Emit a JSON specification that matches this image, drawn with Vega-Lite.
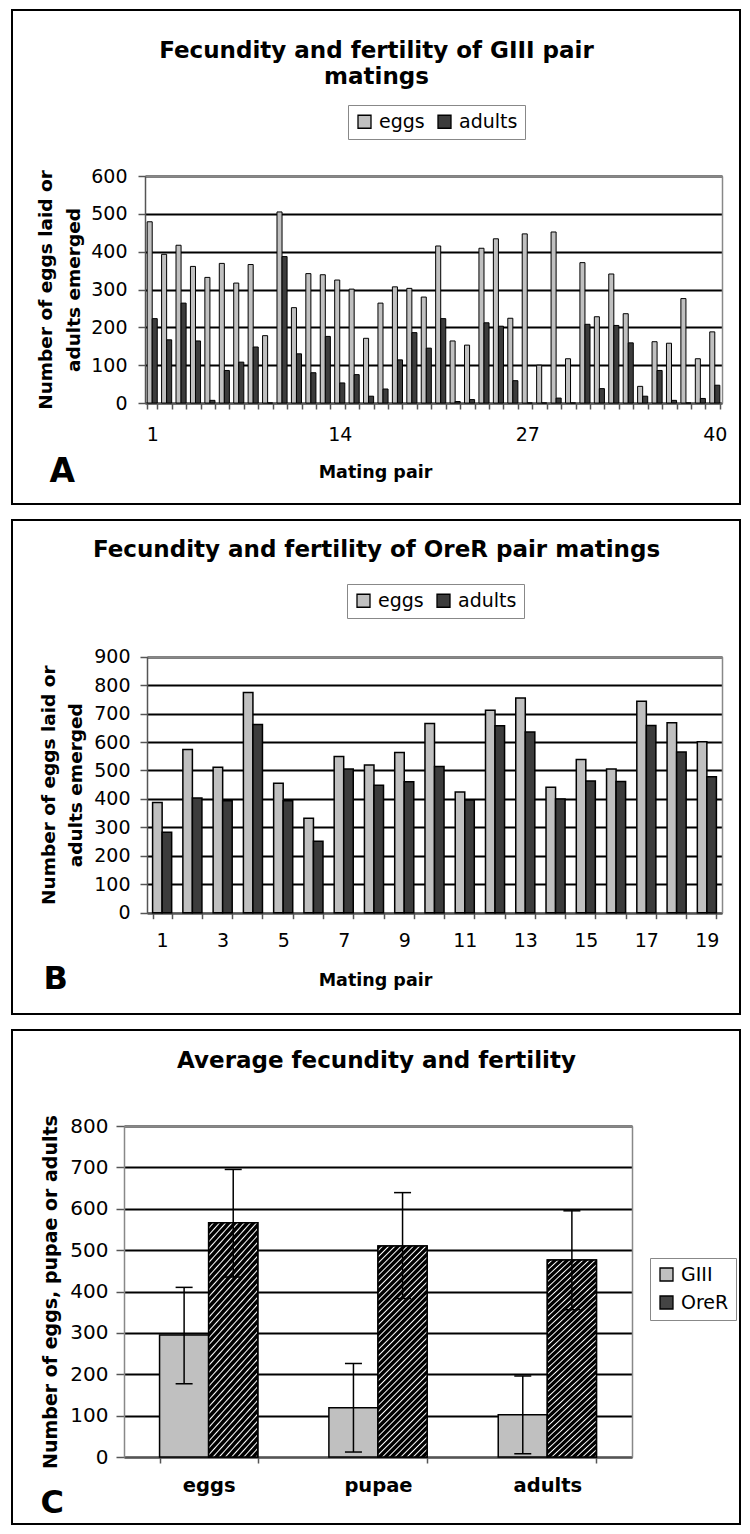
{
  "$schema": "https://vega.github.io/schema/vega-lite/v6.json",
  "background": "white",
  "padding": {"left": 11, "top": 9, "right": 0, "bottom": 0},
  "spacing": 16,
  "bounds": "flush",
  "resolve": {"scale": {"color": "independent", "xOffset": "independent", "x": "independent", "y": "independent"}, "legend": {"color": "independent"}},
  "config": {
    "font": "DejaVu Sans",
    "view": {"stroke": "black", "strokeWidth": 2, "fill": "white"},
    "axis": {
      "labelFont": "DejaVu Sans", "labelColor": "black", "labelFontSize": 19,
      "titleFont": "DejaVu Sans", "titleColor": "black", "titleFontWeight": "bold",
      "domainColor": "#555555", "domainWidth": 1.5, "tickColor": "#555555", "tickWidth": 1.5,
      "gridColor": "black", "gridWidth": 2, "gridOpacity": 1
    },
    "legend": {
      "labelFont": "DejaVu Sans", "labelFontSize": 19, "labelColor": "black",
      "symbolType": "square", "symbolSize": 169, "symbolStrokeColor": "black", "symbolStrokeWidth": 1.3,
      "strokeColor": "#888888", "fillColor": "white", "padding": 7, "labelOffset": 5, "columnPadding": 10, "rowPadding": 8
    }
  },
  "vconcat": [
    {
      "width": 728, "height": 494,
      "data": {"values": [
        {"pair": 1, "eggs": 479, "adults": 223}, {"pair": 2, "eggs": 393, "adults": 167},
        {"pair": 3, "eggs": 417, "adults": 264}, {"pair": 4, "eggs": 361, "adults": 164},
        {"pair": 5, "eggs": 332, "adults": 7}, {"pair": 6, "eggs": 369, "adults": 86},
        {"pair": 7, "eggs": 317, "adults": 108}, {"pair": 8, "eggs": 366, "adults": 148},
        {"pair": 9, "eggs": 178, "adults": 0}, {"pair": 10, "eggs": 505, "adults": 387},
        {"pair": 11, "eggs": 252, "adults": 130}, {"pair": 12, "eggs": 342, "adults": 80},
        {"pair": 13, "eggs": 339, "adults": 176}, {"pair": 14, "eggs": 325, "adults": 53},
        {"pair": 15, "eggs": 301, "adults": 75}, {"pair": 16, "eggs": 171, "adults": 18},
        {"pair": 17, "eggs": 264, "adults": 37}, {"pair": 18, "eggs": 307, "adults": 114},
        {"pair": 19, "eggs": 303, "adults": 186}, {"pair": 20, "eggs": 280, "adults": 145},
        {"pair": 21, "eggs": 415, "adults": 223}, {"pair": 22, "eggs": 164, "adults": 4},
        {"pair": 23, "eggs": 153, "adults": 9}, {"pair": 24, "eggs": 409, "adults": 212},
        {"pair": 25, "eggs": 434, "adults": 203}, {"pair": 26, "eggs": 224, "adults": 59},
        {"pair": 27, "eggs": 447, "adults": 0}, {"pair": 28, "eggs": 100, "adults": 0},
        {"pair": 29, "eggs": 452, "adults": 13}, {"pair": 30, "eggs": 117, "adults": 0},
        {"pair": 31, "eggs": 371, "adults": 208}, {"pair": 32, "eggs": 228, "adults": 38},
        {"pair": 33, "eggs": 341, "adults": 205}, {"pair": 34, "eggs": 236, "adults": 159},
        {"pair": 35, "eggs": 44, "adults": 18}, {"pair": 36, "eggs": 162, "adults": 86},
        {"pair": 37, "eggs": 158, "adults": 7}, {"pair": 38, "eggs": 276, "adults": 0},
        {"pair": 39, "eggs": 117, "adults": 12}, {"pair": 40, "eggs": 188, "adults": 47}
      ]},
      "transform": [{"fold": ["eggs", "adults"], "as": ["stage", "n"]}],
      "layer": [
        {
          "mark": {"type": "bar", "stroke": "black", "strokeWidth": 1},
          "encoding": {
            "x": {"field": "pair", "type": "ordinal",
              "scale": {"range": [133, 710], "paddingInner": 0.3, "paddingOuter": 0.15},
              "axis": {"orient": "bottom", "offset": -101, "labelAngle": 0, "labelOverlap": false,
                "labelExpr": "(datum.value - 1) % 13 == 0 ? datum.label : ''",
                "labelBaseline": "alphabetic", "labelPadding": 31, "tickSize": 6, "tickBand": "extent",
                "title": "Mating pair", "titleFontSize": 17.5, "titleX": 363, "titleY": 74,
                "titleAlign": "center", "titleBaseline": "alphabetic"}},
            "xOffset": {"field": "stage", "type": "nominal", "scale": {"domain": ["eggs", "adults"], "paddingInner": 0}},
            "y": {"field": "n", "type": "quantitative",
              "scale": {"domain": [0, 600], "range": [393, 166], "nice": false},
              "axis": {"orient": "left", "offset": -133, "values": [0, 100, 200, 300, 400, 500, 600], "grid": true,
                "tickSize": 7, "labelPadding": 11,
                "title": ["Number of eggs laid or", "adults emerged"], "titleFontSize": 18.5, "titleLineHeight": 28,
                "titleX": -94, "titleY": 279.5, "titleAngle": 270, "titleAlign": "center", "titleBaseline": "alphabetic"}},
            "color": {"field": "stage", "type": "nominal",
              "scale": {"domain": ["eggs", "adults"], "range": ["#c0c0c0", "#3c3c3c"]},
              "legend": {"orient": "none", "legendX": 336, "legendY": 95, "direction": "horizontal", "title": null}}
          }
        },
        {
          "mark": {"type": "bar", "opacity": 0},
          "encoding": {
            "x": {"field": "pair", "type": "ordinal",
              "axis": {"orient": "top", "offset": -166, "labels": false, "ticks": false, "grid": false, "domainColor": "#888888",
                "title": ["Fecundity and fertility of GIII pair", "matings"], "titleFontSize": 23, "titleLineHeight": 26,
                "titleX": 364, "titleY": -119, "titleAlign": "center", "titleBaseline": "alphabetic", "titleAngle": 0}},
            "y": {"field": "n", "type": "quantitative",
              "axis": {"orient": "right", "offset": -18, "labels": false, "ticks": false, "grid": false, "domainColor": "#888888",
                "title": "A", "titleAngle": 0, "titleX": -673, "titleY": 471, "titleAlign": "left", "titleBaseline": "alphabetic", "titleFontSize": 33}}
          }
        }
      ],
      "resolve": {"axis": {"x": "independent", "y": "independent"}}
    },
    {
      "width": 728, "height": 494,
      "data": {"values": [
        {"pair": 1, "eggs": 387, "adults": 283}, {"pair": 2, "eggs": 574, "adults": 403},
        {"pair": 3, "eggs": 511, "adults": 394}, {"pair": 4, "eggs": 774, "adults": 662},
        {"pair": 5, "eggs": 455, "adults": 394}, {"pair": 6, "eggs": 332, "adults": 251},
        {"pair": 7, "eggs": 549, "adults": 505}, {"pair": 8, "eggs": 519, "adults": 448},
        {"pair": 9, "eggs": 563, "adults": 460}, {"pair": 10, "eggs": 665, "adults": 514},
        {"pair": 11, "eggs": 424, "adults": 396}, {"pair": 12, "eggs": 712, "adults": 657},
        {"pair": 13, "eggs": 755, "adults": 635}, {"pair": 14, "eggs": 441, "adults": 400},
        {"pair": 15, "eggs": 539, "adults": 463}, {"pair": 16, "eggs": 505, "adults": 461},
        {"pair": 17, "eggs": 743, "adults": 658}, {"pair": 18, "eggs": 668, "adults": 565},
        {"pair": 19, "eggs": 601, "adults": 478}
      ]},
      "transform": [{"fold": ["eggs", "adults"], "as": ["stage", "n"]}],
      "layer": [
        {
          "mark": {"type": "bar", "stroke": "black", "strokeWidth": 1.5},
          "encoding": {
            "x": {"field": "pair", "type": "ordinal",
              "scale": {"range": [135, 710], "paddingInner": 0.37, "paddingOuter": 0.185},
              "axis": {"orient": "bottom", "offset": -101.3, "labelAngle": 0, "labelOverlap": false,
                "labelExpr": "datum.value % 2 == 1 ? datum.label : ''",
                "labelBaseline": "alphabetic", "labelPadding": 28, "tickSize": 6, "tickBand": "extent",
                "title": "Mating pair", "titleFontSize": 17.5, "titleX": 363, "titleY": 73,
                "titleAlign": "center", "titleBaseline": "alphabetic"}},
            "xOffset": {"field": "stage", "type": "nominal", "scale": {"domain": ["eggs", "adults"], "paddingInner": 0}},
            "y": {"field": "n", "type": "quantitative",
              "scale": {"domain": [0, 900], "range": [392.7, 136.7], "nice": false},
              "axis": {"orient": "left", "offset": -135, "values": [0, 100, 200, 300, 400, 500, 600, 700, 800, 900], "grid": true,
                "tickSize": 7, "labelPadding": 10,
                "title": ["Number of eggs laid or", "adults emerged"], "titleFontSize": 18.5, "titleLineHeight": 27,
                "titleX": -92.5, "titleY": 264.7, "titleAngle": 270, "titleAlign": "center", "titleBaseline": "alphabetic"}},
            "color": {"field": "stage", "type": "nominal",
              "scale": {"domain": ["eggs", "adults"], "range": ["#c0c0c0", "#3c3c3c"]},
              "legend": {"orient": "none", "legendX": 335, "legendY": 64, "direction": "horizontal", "title": null}}
          }
        },
        {
          "mark": {"type": "bar", "opacity": 0},
          "encoding": {
            "x": {"field": "pair", "type": "ordinal",
              "axis": {"orient": "top", "offset": -136.7, "labels": false, "ticks": false, "grid": false, "domainColor": "#888888",
                "title": "Fecundity and fertility of OreR pair matings", "titleFontSize": 23,
                "titleX": 364, "titleY": -100.7, "titleAlign": "center", "titleBaseline": "alphabetic", "titleAngle": 0}},
            "y": {"field": "n", "type": "quantitative",
              "axis": {"orient": "right", "offset": -18, "labels": false, "ticks": false, "grid": false, "domainColor": "#888888",
                "title": "B", "titleAngle": 0, "titleX": -679, "titleY": 468, "titleAlign": "left", "titleBaseline": "alphabetic", "titleFontSize": 32}}
          }
        }
      ],
      "resolve": {"axis": {"x": "independent", "y": "independent"}}
    },
    {
      "width": 728, "height": 494,
      "data": {"values": [
        {"cat": "eggs", "strain": "GIII", "mean": 295, "lo": 177, "hi": 410},
        {"cat": "eggs", "strain": "OreR", "mean": 566, "lo": 435, "hi": 695},
        {"cat": "pupae", "strain": "GIII", "mean": 119, "lo": 12, "hi": 226},
        {"cat": "pupae", "strain": "OreR", "mean": 510, "lo": 383, "hi": 639},
        {"cat": "adults", "strain": "GIII", "mean": 102, "lo": 8, "hi": 196},
        {"cat": "adults", "strain": "OreR", "mean": 476, "lo": 356, "hi": 595}
      ]},
      "layer": [
        {
          "mark": {"type": "bar", "stroke": "black", "strokeWidth": 1.5},
          "encoding": {
            "x": {"field": "cat", "type": "nominal", "sort": ["eggs", "pupae", "adults"],
              "scale": {"range": [112, 620], "paddingInner": 0.42, "paddingOuter": 0.21},
              "axis": {"orient": "bottom", "offset": -67, "labelAngle": 0, "labelFontWeight": "bold", "labelFontSize": 19.5,
                "labelBaseline": "alphabetic", "labelPadding": 28, "tickSize": 6, "tickBand": "extent", "title": null}},
            "xOffset": {"field": "strain", "type": "nominal", "scale": {"domain": ["GIII", "OreR"], "paddingInner": 0}},
            "y": {"field": "mean", "type": "quantitative",
              "scale": {"domain": [0, 800], "range": [427, 96], "nice": false},
              "axis": {"orient": "left", "offset": -112, "values": [0, 100, 200, 300, 400, 500, 600, 700, 800], "grid": true,
                "tickSize": 8, "labelPadding": 8, "labelFontSize": 20, "domainColor": "#888888",
                "title": "Number of eggs, pupae or adults", "titleFontSize": 19,
                "titleX": -68, "titleY": 261.5, "titleAngle": 270, "titleAlign": "center", "titleBaseline": "alphabetic"}},
            "color": {"field": "strain", "type": "nominal",
              "scale": {"domain": ["GIII", "OreR"], "range": ["#c0c0c0", "#444444"]},
              "legend": {"orient": "none", "legendX": 638, "legendY": 228, "direction": "vertical", "title": null}}
          }
        },
        {
          "transform": [{"filter": "datum.strain === 'OreR'"}],
          "mark": {"type": "bar", "stroke": "black", "strokeWidth": 1.5,
            "fill": {"gradient": "linear", "x1": 0, "y1": 0, "x2": 0.273, "y2": 1.169, "stops": [
              {"offset": 0, "color": "#000"}, {"offset": 0.0131, "color": "#000"}, {"offset": 0.01845, "color": "#fff"},
              {"offset": 0.02381, "color": "#000"}, {"offset": 0.0369, "color": "#000"}, {"offset": 0.04226, "color": "#fff"},
              {"offset": 0.04762, "color": "#000"}, {"offset": 0.06071, "color": "#000"}, {"offset": 0.06607, "color": "#fff"},
              {"offset": 0.07143, "color": "#000"}, {"offset": 0.08452, "color": "#000"}, {"offset": 0.08988, "color": "#fff"},
              {"offset": 0.09524, "color": "#000"}, {"offset": 0.10833, "color": "#000"}, {"offset": 0.11369, "color": "#fff"},
              {"offset": 0.11905, "color": "#000"}, {"offset": 0.13214, "color": "#000"}, {"offset": 0.1375, "color": "#fff"},
              {"offset": 0.14286, "color": "#000"}, {"offset": 0.15595, "color": "#000"}, {"offset": 0.16131, "color": "#fff"},
              {"offset": 0.16667, "color": "#000"}, {"offset": 0.17976, "color": "#000"}, {"offset": 0.18512, "color": "#fff"},
              {"offset": 0.19048, "color": "#000"}, {"offset": 0.20357, "color": "#000"}, {"offset": 0.20893, "color": "#fff"},
              {"offset": 0.21429, "color": "#000"}, {"offset": 0.22738, "color": "#000"}, {"offset": 0.23274, "color": "#fff"},
              {"offset": 0.2381, "color": "#000"}, {"offset": 0.25119, "color": "#000"}, {"offset": 0.25655, "color": "#fff"},
              {"offset": 0.2619, "color": "#000"}, {"offset": 0.275, "color": "#000"}, {"offset": 0.28036, "color": "#fff"},
              {"offset": 0.28571, "color": "#000"}, {"offset": 0.29881, "color": "#000"}, {"offset": 0.30417, "color": "#fff"},
              {"offset": 0.30952, "color": "#000"}, {"offset": 0.32262, "color": "#000"}, {"offset": 0.32798, "color": "#fff"},
              {"offset": 0.33333, "color": "#000"}, {"offset": 0.34643, "color": "#000"}, {"offset": 0.35179, "color": "#fff"},
              {"offset": 0.35714, "color": "#000"}, {"offset": 0.37024, "color": "#000"}, {"offset": 0.3756, "color": "#fff"},
              {"offset": 0.38095, "color": "#000"}, {"offset": 0.39405, "color": "#000"}, {"offset": 0.3994, "color": "#fff"},
              {"offset": 0.40476, "color": "#000"}, {"offset": 0.41786, "color": "#000"}, {"offset": 0.42321, "color": "#fff"},
              {"offset": 0.42857, "color": "#000"}, {"offset": 0.44167, "color": "#000"}, {"offset": 0.44702, "color": "#fff"},
              {"offset": 0.45238, "color": "#000"}, {"offset": 0.46548, "color": "#000"}, {"offset": 0.47083, "color": "#fff"},
              {"offset": 0.47619, "color": "#000"}, {"offset": 0.48929, "color": "#000"}, {"offset": 0.49464, "color": "#fff"},
              {"offset": 0.5, "color": "#000"}, {"offset": 0.5131, "color": "#000"}, {"offset": 0.51845, "color": "#fff"},
              {"offset": 0.52381, "color": "#000"}, {"offset": 0.5369, "color": "#000"}, {"offset": 0.54226, "color": "#fff"},
              {"offset": 0.54762, "color": "#000"}, {"offset": 0.56071, "color": "#000"}, {"offset": 0.56607, "color": "#fff"},
              {"offset": 0.57143, "color": "#000"}, {"offset": 0.58452, "color": "#000"}, {"offset": 0.58988, "color": "#fff"},
              {"offset": 0.59524, "color": "#000"}, {"offset": 0.60833, "color": "#000"}, {"offset": 0.61369, "color": "#fff"},
              {"offset": 0.61905, "color": "#000"}, {"offset": 0.63214, "color": "#000"}, {"offset": 0.6375, "color": "#fff"},
              {"offset": 0.64286, "color": "#000"}, {"offset": 0.65595, "color": "#000"}, {"offset": 0.66131, "color": "#fff"},
              {"offset": 0.66667, "color": "#000"}, {"offset": 0.67976, "color": "#000"}, {"offset": 0.68512, "color": "#fff"},
              {"offset": 0.69048, "color": "#000"}, {"offset": 0.70357, "color": "#000"}, {"offset": 0.70893, "color": "#fff"},
              {"offset": 0.71429, "color": "#000"}, {"offset": 0.72738, "color": "#000"}, {"offset": 0.73274, "color": "#fff"},
              {"offset": 0.7381, "color": "#000"}, {"offset": 0.75119, "color": "#000"}, {"offset": 0.75655, "color": "#fff"},
              {"offset": 0.7619, "color": "#000"}, {"offset": 0.775, "color": "#000"}, {"offset": 0.78036, "color": "#fff"},
              {"offset": 0.78571, "color": "#000"}, {"offset": 0.79881, "color": "#000"}, {"offset": 0.80417, "color": "#fff"},
              {"offset": 0.80952, "color": "#000"}, {"offset": 0.82262, "color": "#000"}, {"offset": 0.82798, "color": "#fff"},
              {"offset": 0.83333, "color": "#000"}, {"offset": 0.84643, "color": "#000"}, {"offset": 0.85179, "color": "#fff"},
              {"offset": 0.85714, "color": "#000"}, {"offset": 0.87024, "color": "#000"}, {"offset": 0.8756, "color": "#fff"},
              {"offset": 0.88095, "color": "#000"}, {"offset": 0.89405, "color": "#000"}, {"offset": 0.8994, "color": "#fff"},
              {"offset": 0.90476, "color": "#000"}, {"offset": 0.91786, "color": "#000"}, {"offset": 0.92321, "color": "#fff"},
              {"offset": 0.92857, "color": "#000"}, {"offset": 0.94167, "color": "#000"}, {"offset": 0.94702, "color": "#fff"},
              {"offset": 0.95238, "color": "#000"}, {"offset": 0.96548, "color": "#000"}, {"offset": 0.97083, "color": "#fff"},
              {"offset": 0.97619, "color": "#000"}, {"offset": 0.98929, "color": "#000"}, {"offset": 0.99464, "color": "#fff"},
              {"offset": 1, "color": "#000"}]}},
          "encoding": {
            "x": {"field": "cat", "type": "nominal", "sort": ["eggs", "pupae", "adults"], "axis": null},
            "xOffset": {"field": "strain", "type": "nominal", "scale": {"domain": ["GIII", "OreR"]}},
            "y": {"field": "mean", "type": "quantitative", "axis": null}
          }
        },
        {
          "mark": {"type": "rule", "color": "black", "strokeWidth": 1.5},
          "encoding": {
            "x": {"field": "cat", "type": "nominal", "sort": ["eggs", "pupae", "adults"], "axis": null},
            "xOffset": {"field": "strain", "type": "nominal", "scale": {"domain": ["GIII", "OreR"]}},
            "y": {"field": "lo", "type": "quantitative", "axis": null},
            "y2": {"field": "hi"}
          }
        },
        {
          "transform": [{"fold": ["lo", "hi"], "as": ["end", "v"]}],
          "mark": {"type": "tick", "color": "black", "size": 17, "thickness": 1.5, "opacity": 1},
          "encoding": {
            "x": {"field": "cat", "type": "nominal", "sort": ["eggs", "pupae", "adults"], "axis": null},
            "xOffset": {"field": "strain", "type": "nominal", "scale": {"domain": ["GIII", "OreR"]}},
            "y": {"field": "v", "type": "quantitative", "axis": null}
          }
        },
        {
          "mark": {"type": "bar", "opacity": 0},
          "encoding": {
            "x": {"field": "cat", "type": "nominal", "sort": ["eggs", "pupae", "adults"],
              "axis": {"orient": "top", "offset": -96, "labels": false, "ticks": false, "grid": false, "domainColor": "#888888",
                "title": "Average fecundity and fertility", "titleFontSize": 23,
                "titleX": 364, "titleY": -59, "titleAlign": "center", "titleBaseline": "alphabetic", "titleAngle": 0}},
            "y": {"field": "mean", "type": "quantitative",
              "axis": {"orient": "right", "offset": -108, "labels": false, "ticks": false, "grid": false, "domainColor": "#888888",
                "title": "C", "titleAngle": 0, "titleX": -592, "titleY": 482, "titleAlign": "left", "titleBaseline": "alphabetic", "titleFontSize": 32}}
          }
        }
      ],
      "resolve": {"axis": {"x": "independent", "y": "independent"}}
    }
  ]
}
